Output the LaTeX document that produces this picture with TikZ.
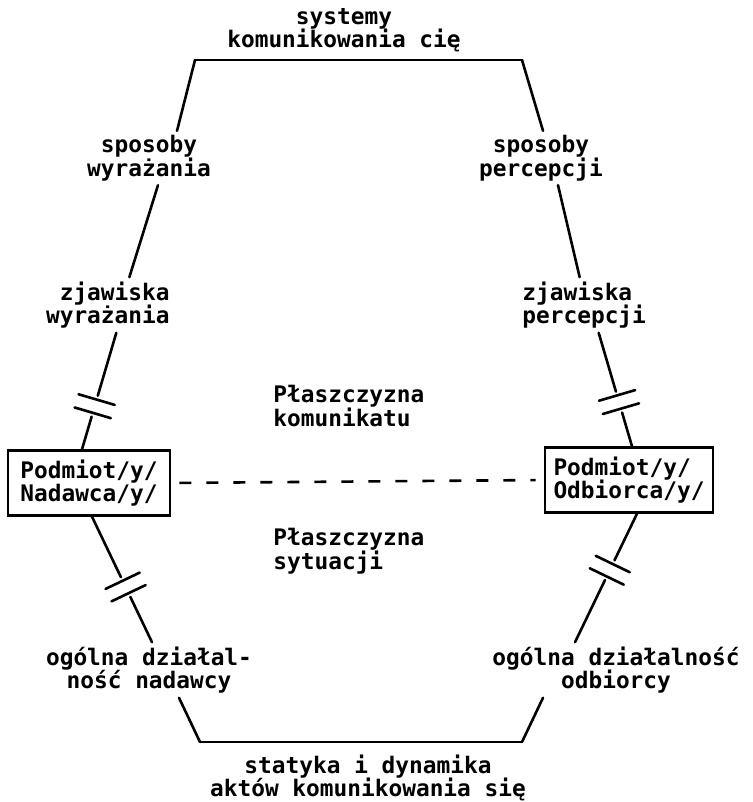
\documentclass[tikz,border=0pt]{standalone}
\usepackage{fontspec}
\setmonofont{DejaVu Sans Mono}

% double slash across a broken line
\newcommand{\dblslash}[1]{\draw[edge] (#1.north west) -- (#1.south west) (#1.north east) -- (#1.south east);}

\begin{document}
\begin{tikzpicture}[
    x=0.5pt, y=-0.5pt,
    every node/.style={font=\fontsize{11.4}{11.75}\selectfont\ttfamily\bfseries},
    txt/.style={inner sep=2pt, align=center},
    person/.style={rectangle, draw, line width=1.3pt, align=left, inner xsep=4.25pt, inner ysep=4.5pt, minimum width=81pt},
    edge/.style={line width=1.3pt, line cap=round},
    brk/.style={sloped, allow upside down, inner sep=0pt, minimum width=6.5pt, minimum height=18.5pt}
]
\useasboundingbox (0,0) rectangle (752,802);

% Corners of the frame
\coordinate (tl) at (195,60);
\coordinate (tr) at (522,60);
\coordinate (bl) at (200,742);
\coordinate (br) at (522,742);

% Labels
\node[txt] (sys) at (344,30) {systemy\\komunikowania cię};
\node[txt] (spW) at (149,158) {sposoby\\wyrażania};
\node[txt] (spP) at (541,158) {sposoby\\percepcji};
\node[txt, anchor=east, align=right] (zjW) at (174,305) {zjawiska\\wyrażania};
\node[txt, anchor=west, align=left] (zjP) at (518,305) {zjawiska\\percepcji};
\node[txt, anchor=west, align=left] (plK) at (269,406) {Płaszczyzna\\komunikatu};
\node[txt, anchor=west, align=left] (plS) at (269,551) {Płaszczyzna\\sytuacji};
\node[txt] (ogW) at (149,670) {ogólna działal-\\ność nadawcy};
\node[txt] (ogP) at (616,670) {ogólna działalność\\odbiorcy};
\node[txt] (sda) at (368,778) {statyka i dynamika\\aktów komunikowania się};

% Sender and receiver
\node[person] (boxN) at (89,483) {Podmiot/y/\\Nadawca/y/};
\node[person] (boxO) at (629,480) {Podmiot/y/\\Odbiorca/y/};

% Top and bottom of the frame
\draw[edge] (tl) -- (tr);
\draw[edge] (bl) -- (br);

% Left side
\draw[edge] (tl) -- ([xshift=14pt]spW.north);
\draw[edge] ([xshift=4.5pt]spW.south) -- ([xshift=10.75pt]zjW.north);
\path ([xshift=4.25pt]zjW.south) -- ([xshift=-3.5pt]boxN.north) node[brk, pos=0.63] (bkW1) {};
\draw[edge, shorten >=2pt] ([xshift=4.25pt]zjW.south) -- (bkW1.west);
\draw[edge, shorten <=2pt] (bkW1.east) -- ([xshift=-3.5pt]boxN.north);
\dblslash{bkW1}
\path ([xshift=1.5pt]boxN.south) -- ([xshift=1.5pt]ogW.north) node[brk, pos=0.56] (bkW2) {};
\draw[edge, shorten >=2pt] ([xshift=1.5pt]boxN.south) -- (bkW2.west);
\draw[edge, shorten <=2pt] (bkW2.east) -- ([xshift=1.5pt]ogW.north);
\dblslash{bkW2}
\draw[edge] ([xshift=15pt]ogW.south) -- (bl);

% Right side
\draw[edge] (tr) -- ([xshift=1pt]spP.north);
\draw[edge] ([xshift=8.5pt]spP.south) -- ([xshift=-2.25pt]zjP.north);
\path ([xshift=7.25pt]zjP.south) -- ([xshift=1.5pt]boxO.north) node[brk, pos=0.61] (bkP1) {};
\draw[edge, shorten >=2pt] ([xshift=7.25pt]zjP.south) -- (bkP1.west);
\draw[edge, shorten <=2pt] (bkP1.east) -- ([xshift=1.5pt]boxO.north);
\dblslash{bkP1}
\path ([xshift=4pt]boxO.south) -- ([xshift=-20.5pt]ogP.north) node[brk, pos=0.44] (bkP2) {};
\draw[edge, shorten >=2pt] ([xshift=4pt]boxO.south) -- (bkP2.west);
\draw[edge, shorten <=2pt] (bkP2.east) -- ([xshift=-20.5pt]ogP.north);
\dblslash{bkP2}
\draw[edge] ([xshift=-36.5pt]ogP.south) -- (br);

% Link between the two subjects
\draw[edge, line cap=butt, dash pattern=on 6pt off 7.5pt, shorten <=4pt, shorten >=4pt] (boxN.east) -- (boxO.west);

\end{tikzpicture}
\end{document}
